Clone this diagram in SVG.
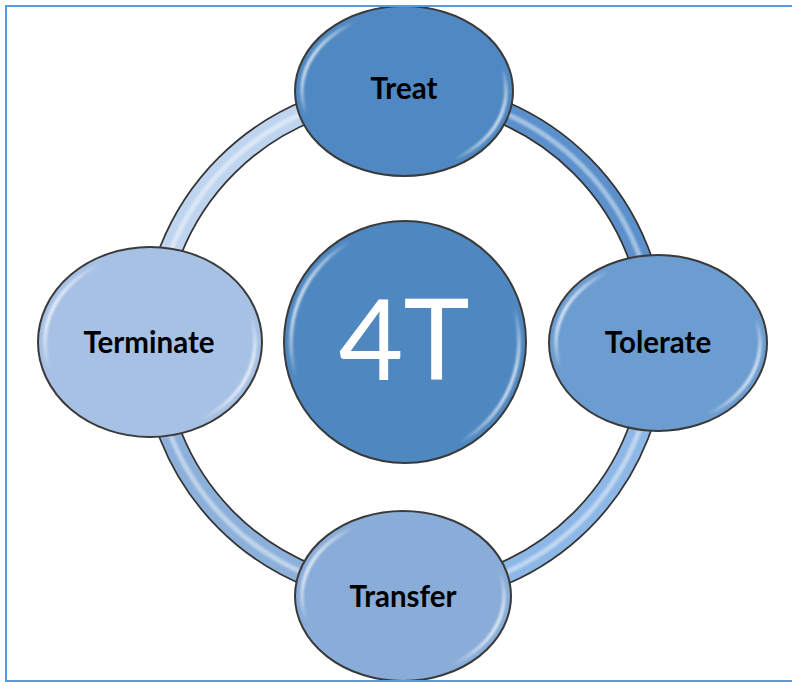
<svg xmlns="http://www.w3.org/2000/svg" width="792" height="682" viewBox="0 0 792 682">
  <style>
    .rim { fill: none; stroke: #333; stroke-width: 24; }
    .band { fill: none; stroke-width: 20.5; }
    .shine { fill: none; stroke: #ffffff; stroke-opacity: 0.45; stroke-width: 5; filter: url(#soft); }
    .node { stroke: #3a3a3a; stroke-width: 2; }
    .gloss { fill: none; stroke: url(#gloss); stroke-width: 3.5; filter: url(#soft); }
    .label { font-family: Lato, "Open Sans", "Liberation Sans", sans-serif; font-weight: 700; font-size: 29.5px; fill: #000; text-anchor: middle; }
    .big { font-family: Lato, "Open Sans", "Liberation Sans", sans-serif; font-weight: 400; font-size: 112px; fill: #fff; text-anchor: middle; }
    .frame { fill: none; stroke: #5b9bd5; stroke-width: 2; }
  </style>
  <defs>
    <filter id="soft" x="-10%" y="-10%" width="120%" height="120%">
      <feGaussianBlur stdDeviation="1"/>
    </filter>
    <linearGradient id="gloss" x1="0" y1="0.3" x2="1" y2="0.7">
      <stop offset="0" stop-color="#fff" stop-opacity="0.95"/>
      <stop offset="0.14" stop-color="#fff" stop-opacity="0"/>
      <stop offset="0.86" stop-color="#fff" stop-opacity="0"/>
      <stop offset="1" stop-color="#fff" stop-opacity="0.95"/>
    </linearGradient>
  </defs>

  <!-- ring joining the four outer nodes -->
  <g id="connectors">
    <g>
      <path class="rim" d="M 404 92 A 251 251 0 0 1 655 343"/>
      <path class="band" stroke="#5b90cc" d="M 404 92 A 251 251 0 0 1 655 343"/>
      <path class="shine" d="M 404 92 A 251 251 0 0 1 655 343"/>
    </g>
    <g>
      <path class="rim" d="M 655 343 A 251 251 0 0 1 404 594"/>
      <path class="band" stroke="#8db7e6" d="M 655 343 A 251 251 0 0 1 404 594"/>
      <path class="shine" d="M 655 343 A 251 251 0 0 1 404 594"/>
    </g>
    <g>
      <path class="rim" d="M 404 594 A 251 251 0 0 1 153 343"/>
      <path class="band" stroke="#8cb0da" d="M 404 594 A 251 251 0 0 1 153 343"/>
      <path class="shine" d="M 404 594 A 251 251 0 0 1 153 343"/>
    </g>
    <g>
      <path class="rim" d="M 153 343 A 251 251 0 0 1 404 92"/>
      <path class="band" stroke="#bed4ef" d="M 153 343 A 251 251 0 0 1 404 92"/>
      <path class="shine" d="M 153 343 A 251 251 0 0 1 404 92"/>
    </g>
  </g>

  <g id="center">
    <circle class="node" cx="405" cy="342" r="121" fill="#4f88c1"/>
    <circle class="gloss" cx="405" cy="342" r="114"/>
    <text class="big" x="404" y="380">4T</text>
  </g>

  <g id="treat">
    <ellipse class="node" cx="404" cy="91" rx="109" ry="85" fill="#4f88c2"/>
    <ellipse class="gloss" cx="404" cy="91" rx="102" ry="78"/>
    <text class="label" x="404" y="99">Treat</text>
  </g>

  <g id="tolerate">
    <ellipse class="node" cx="658" cy="343" rx="109" ry="88" fill="#6c9dd1"/>
    <ellipse class="gloss" cx="658" cy="343" rx="102" ry="81"/>
    <text class="label" x="658" y="353">Tolerate</text>
  </g>

  <g id="transfer">
    <ellipse class="node" cx="403" cy="596" rx="108" ry="85" fill="#89add8"/>
    <ellipse class="gloss" cx="403" cy="596" rx="101" ry="78"/>
    <text class="label" x="403" y="607">Transfer</text>
  </g>

  <g id="terminate">
    <ellipse class="node" cx="150" cy="342" rx="112" ry="95" fill="#a7c1e5"/>
    <ellipse class="gloss" cx="150" cy="342" rx="105" ry="88"/>
    <text class="label" x="149" y="353">Terminate</text>
  </g>

  <!-- page frame: top, left and bottom edges -->
  <path class="frame" d="M 792 6 H 6 V 681 H 792"/>
</svg>
